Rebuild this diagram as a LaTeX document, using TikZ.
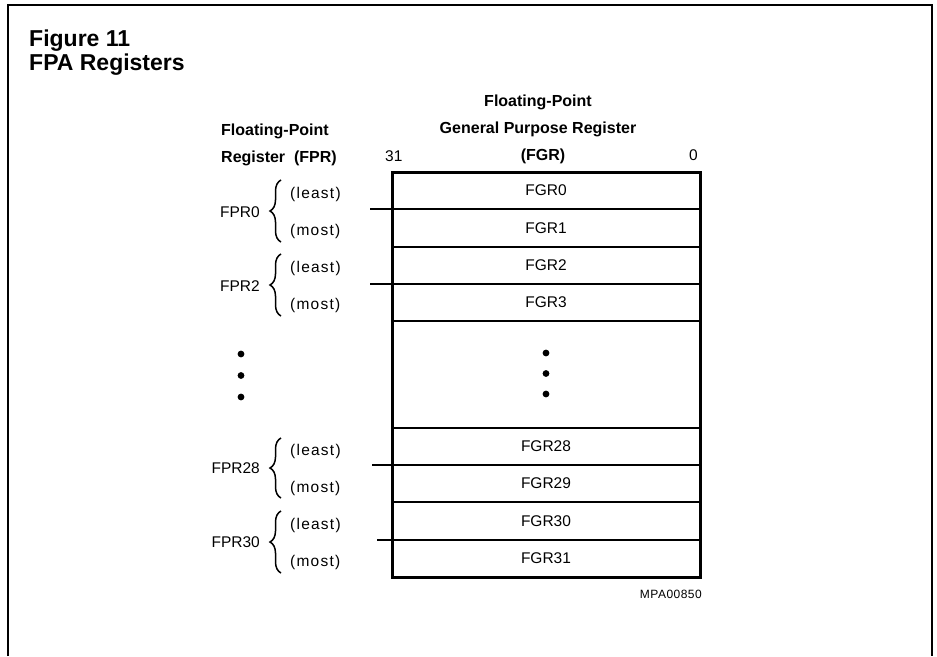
\documentclass[tikz,border=0pt]{standalone}
\usepackage{fontspec}
\setmainfont{Liberation Sans}
\newfontfamily\lblfont{Liberation Sans}
\newfontfamily\wordfont[LetterSpace=8]{Liberation Sans}
\newfontfamily\codefont[LetterSpace=4]{Liberation Sans}
\usetikzlibrary{decorations.pathreplacing}
\begin{document}
\begin{tikzpicture}[x=1pt,y=-1pt,
  titletext/.style={anchor=base west,inner sep=0pt,font=\fontsize{23}{27}\selectfont\bfseries},
  headtext/.style={inner sep=0pt,font=\fontsize{16}{19}\selectfont\bfseries},
  lbltext/.style={inner sep=0pt,font=\lblfont\fontsize{15.5}{18}\selectfont},
  wordtext/.style={inner sep=0pt,font=\wordfont\fontsize{15.5}{18}\selectfont},
  smalltext/.style={inner sep=0pt,font=\codefont\fontsize{12}{14}\selectfont},
  row/.style={draw,line width=1.8pt,outer sep=0pt,minimum width=308pt,minimum height=#1,inner sep=0pt,
    font=\lblfont\fontsize{15.5}{18}\selectfont},
  row/.default=37pt,
  divider/.style={line width=1.8pt},
  outerbox/.style={line width=3pt},
  frameline/.style={line width=1.4pt},
  dot/.style={circle,fill=black,inner sep=0pt,minimum size=6.8pt},
  grpbrace/.style={line width=1.5pt,decorate,decoration={brace,amplitude=11pt}}
]
\useasboundingbox (0,0) rectangle (937,656);
% frame
\draw[frameline] (8,656) -- (8,5) -- (932,5) -- (932,656);
% title
\node[titletext] (t1) at (29,46) {Figure 11};
\node[titletext] (t2) at (29,70) {FPA Registers};
% headers
\node[headtext,anchor=base west] (lh1) at (221,135) {Floating-Point};
\node[headtext,anchor=base west] (lh2) at (221,162) {Register\ \ (FPR)};
\node[headtext,anchor=base] (rh1) at (538,106) {Floating-Point};
\node[headtext,anchor=base] (rh2) at (538,133) {General\ Purpose\ Register};
\node[headtext,anchor=base] (rh3) at (543,160) {(FGR)};
\node[lbltext,anchor=base west] (b31) at (385,161) {31};
\node[lbltext,anchor=base east] (b0) at (698,160) {0};
% register rows
\node[row] (fgr0) at (546,190.5) {FGR0};
\node[row=38pt] (fgr1) at (546,228) {FGR1};
\node[row] (fgr2) at (546,265.5) {FGR2};
\node[row] (fgr3) at (546,302.5) {FGR3};
\node[row=107pt] (gap) at (546,374.5) {};
\node[row] (fgr28) at (546,446.5) {FGR28};
\node[row] (fgr29) at (546,483.5) {FGR29};
\node[row=38pt] (fgr30) at (546,521) {FGR30};
\node[row] (fgr31) at (546,558.5) {FGR31};
\draw[outerbox] (fgr0.north west) rectangle (fgr31.south east);
% dots inside
\node[dot] (rd1) at (546,353) {};
\node[dot] (rd2) at (546,373.5) {};
\node[dot] (rd3) at (546,394) {};
% dots left
\node[dot] (ld1) at (241,354) {};
\node[dot] (ld2) at (241,375.5) {};
\node[dot] (ld3) at (241,397) {};
% dividers from the left
\coordinate (d0) at (370,0);
\coordinate (d2) at (370,0);
\coordinate (d28) at (372,0);
\coordinate (d30) at (377,0);
\draw[divider] (d0 |- fgr0.south west) -- (fgr0.south west);
\draw[divider] (d2 |- fgr2.south west) -- (fgr2.south west);
\draw[divider] (d28 |- fgr28.south west) -- (fgr28.south west);
\draw[divider] (d30 |- fgr30.south west) -- (fgr30.south west);
% labels least / most
\node[wordtext,anchor=west] (l0) at (290,194) {(least)};
\node[wordtext,anchor=west] (m0) at (290,231) {(most)};
\node[wordtext,anchor=west] (l2) at (290,268) {(least)};
\node[wordtext,anchor=west] (m2) at (290,305) {(most)};
\node[wordtext,anchor=west] (l28) at (290,451) {(least)};
\node[wordtext,anchor=west] (m28) at (290,488) {(most)};
\node[wordtext,anchor=west] (l30) at (290,525) {(least)};
\node[wordtext,anchor=west] (m30) at (290,562) {(most)};
% FPR names
\node[lbltext,anchor=east] (fpr0) at (260,212) {FPR0};
\node[lbltext,anchor=east] (fpr2) at (260,286) {FPR2};
\node[lbltext,anchor=east] (fpr28) at (260,468) {FPR28};
\node[lbltext,anchor=east] (fpr30) at (260,542) {FPR30};
% braces
\coordinate (b0b) at (281,242); \coordinate (b0t) at (281,180);
\coordinate (b2b) at (281,316); \coordinate (b2t) at (281,254);
\coordinate (b28b) at (281,498); \coordinate (b28t) at (281,438);
\coordinate (b30b) at (281,573); \coordinate (b30t) at (281,511);
\draw[grpbrace] (b0b) -- (b0t);
\draw[grpbrace] (b2b) -- (b2t);
\draw[grpbrace] (b28b) -- (b28t);
\draw[grpbrace] (b30b) -- (b30t);
% code
\node[smalltext,anchor=base east] (code) at (702,598) {MPA00850};
\end{tikzpicture}
\end{document}
